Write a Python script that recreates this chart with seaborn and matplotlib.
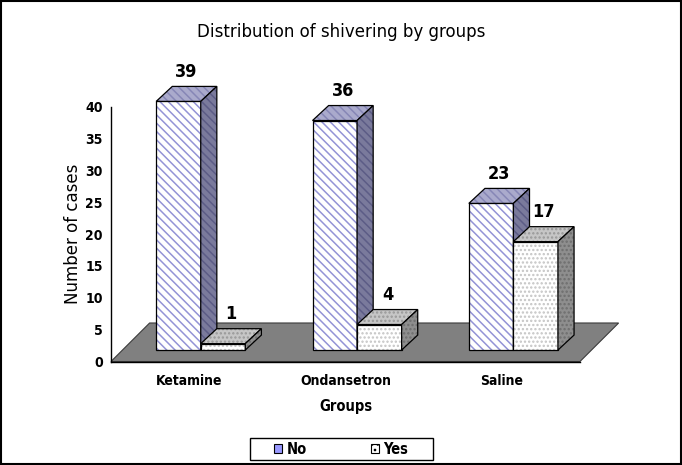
import matplotlib
matplotlib.use("Agg")
import matplotlib.pyplot as plt
from matplotlib.patches import Polygon, Rectangle, Patch
import pandas as pd
import seaborn as sns

# data
groups = ["Ketamine", "Ondansetron", "Saline"]
no_cases = [39, 36, 23]
yes_cases = [1, 4, 17]
answers = ["No", "Yes"]
y_ticks = [0, 5, 10, 15, 20, 25, 30, 35, 40]

df = pd.DataFrame({
    "group": groups * 2,
    "shivering": ["No"] * 3 + ["Yes"] * 3,
    "cases": no_cases + yes_cases,
})

sns.set_style("white")
plt.rcParams['font.family'] = ['DejaVu Sans']
plt.rcParams['font.stretch'] = 'condensed'
plt.rcParams['hatch.linewidth'] = 1.1
for k in ['text.color', 'axes.labelcolor', 'xtick.color', 'ytick.color']:
    plt.rcParams[k] = 'black'

# 3d look: depth offset of bars / floor in data units
dx, dy = 0.103, 2.35
floor_dx, floor_dy = 0.247, 6.04
base = 1.8
shift = 0.074

styles = {
    "No": dict(hatch='\\\\\\\\', front=('white', '#9393d6'),
               top=('#aaaacc', '#8686b6'), side=('#7a7a9c', '#5c5c86'), z=3),
    "Yes": dict(hatch='....', front=('white', '#c4c4c4'),
                top=('#c6c6c6', '#989898'), side=('#8e8e8e', '#6e6e6e'), z=4),
}

fig = plt.figure(figsize=(6.82, 4.65), dpi=100)
ax = fig.add_axes([111 / 682, 1 - 361.5 / 465, 469 / 682, 255 / 465])

sns.barplot(data=df, x="group", y="cases", hue="shivering", hue_order=answers,
            order=groups, width=0.57, dodge=True, legend=False, ax=ax,
            errorbar=None)

bars = list(ax.patches)
for i, p in enumerate(bars):
    key = answers[i // len(groups)]
    st = styles[key]
    x = p.get_x() + shift
    w = p.get_width()
    h = p.get_height()
    y = base
    p.set_x(x)
    p.set_y(y)
    p.set_facecolor(st["front"][0])
    p.set_hatch(st["hatch"])
    p.set_edgecolor(st["front"][1])
    p.set_linewidth(0)
    p.set_zorder(st["z"])
    p.set_clip_on(False)
    ax.add_patch(Rectangle((x, y), w, h, fill=False, ec='black', lw=0.9,
                           zorder=st["z"], clip_on=False))
    top = [(x, y + h), (x + dx, y + h + dy), (x + w + dx, y + h + dy), (x + w, y + h)]
    side = [(x + w, y), (x + w + dx, y + dy), (x + w + dx, y + h + dy), (x + w, y + h)]
    for pts, (fc, hc) in [(top, st["top"]), (side, st["side"])]:
        ax.add_patch(Polygon(pts, closed=True, fc=fc, ec=hc, lw=0,
                             hatch=st["hatch"], zorder=st["z"], clip_on=False))
        ax.add_patch(Polygon(pts, closed=True, fill=False, ec='black', lw=0.9,
                             zorder=st["z"], clip_on=False))
    ax.annotate(f"{int(h)}", xy=(x + w / 2 + dx / 2, y + h + dy),
                xytext=(0, 4), textcoords="offset points", ha="center",
                va="bottom", fontsize=13, fontweight="bold",
                annotation_clip=False)

# grey floor
floor = [(-0.5, 0), (2.5, 0), (2.5 + floor_dx, floor_dy), (-0.5 + floor_dx, floor_dy)]
ax.add_patch(Polygon(floor, closed=True, fc='#808080', ec='#3a3a3a', lw=0.8,
                     zorder=1, clip_on=False))

ax.set_xlim(-0.5, 2.5)
ax.set_ylim(0, 40)
ax.set_yticks(y_ticks)
ax.set_xticks([-0.5, 0.5, 1.5, 2.5], minor=True)
ax.tick_params(axis='x', which='major', length=0, pad=9)
ax.tick_params(axis='x', which='minor', length=5, width=1, color='black', direction='out')
ax.tick_params(axis='y', length=5, width=1, color='black', direction='out', pad=1)
for lab in ax.get_xticklabels():
    lab.set_fontweight("bold")
    lab.set_fontsize(10)
for lab in ax.get_yticklabels():
    lab.set_fontweight("bold")
    lab.set_fontsize(10)

sns.despine(ax=ax)
for s in ["left", "bottom"]:
    ax.spines[s].set_color("black")
    ax.spines[s].set_linewidth(1)
    ax.spines[s].set_zorder(5)

ax.set_xlabel("Groups", fontsize=10.5, fontweight="bold", labelpad=8)
ax.set_ylabel("Number of cases", fontsize=12, fontstretch='normal')
ax.yaxis.set_label_coords(-0.062, 0.5)

fig.text(341 / 682, 1 - 32 / 465, "Distribution of shivering by groups",
         ha="center", va="center", fontsize=13.3)

# legend: entries without frame + separate box like the reference
handles = [Patch(fc='#9999ff', ec='black', lw=0.8),
           Patch(fc='white', ec='black', lw=0.8, hatch='...')]
leg = fig.legend(handles, answers, loc="center", ncol=2,
                 bbox_to_anchor=(341 / 682, 1 - 449 / 465),
                 frameon=False, handlelength=0.55, handleheight=0.55,
                 handletextpad=0.3, columnspacing=4.4, borderpad=0.2,
                 prop={'size': 10.5, 'weight': 'bold'})
fig.patches.append(Rectangle((250 / 682, 1 - 460 / 465), 183 / 682, 22 / 465,
                             fill=False, ec='black', lw=1, transform=fig.transFigure))

fig.patches.append(Rectangle((0.002, 0.002), 0.996, 0.996, fill=False,
                             ec='black', lw=1.5, transform=fig.transFigure))

fig.savefig("out.png", dpi=100, facecolor="white")
